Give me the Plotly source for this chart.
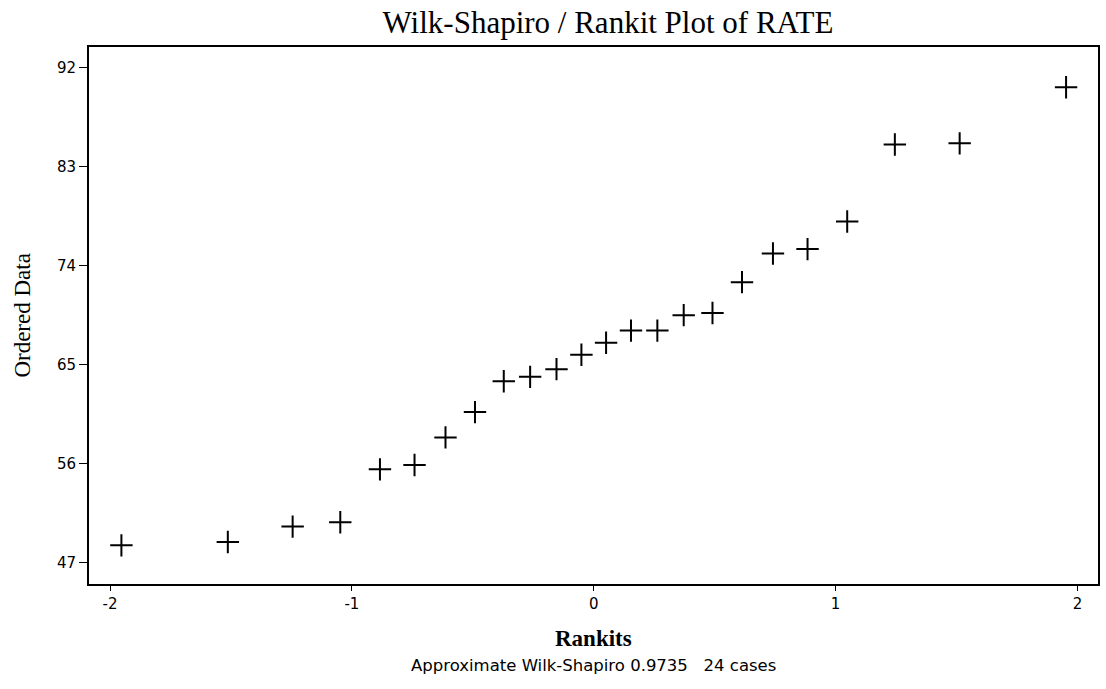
import plotly.graph_objects as go

# Normal scores (rankits) and the sorted RATE values, 24 cases
rankits = [-1.953, -1.513, -1.245, -1.048, -0.884, -0.741, -0.613, -0.491,
           -0.372, -0.263, -0.154, -0.051, 0.051, 0.154, 0.263, 0.372,
           0.491, 0.613, 0.741, 0.884, 1.048, 1.245, 1.513, 1.953]
ordered_rate = [48.6, 48.9, 50.3, 50.7, 55.5, 55.9, 58.4, 60.7,
                63.5, 63.9, 64.6, 65.9, 67.0, 68.1, 68.1, 69.5,
                69.7, 72.5, 75.1, 75.5, 78.0, 85.0, 85.1, 90.2]

x_tickvals = [-2, -1, 0, 1, 2]
x_ticktext = ["-2", "-1", "0", "1", "2"]
y_tickvals = [47, 56, 65, 74, 83, 92]
y_ticktext = ["47", "56", "65", "74", "83", "92"]

wilk_shapiro = 0.9735
n_cases = len(ordered_rate)

SERIF = "Liberation Serif, Times New Roman, serif"
SANS = "DejaVu Sans, Arial, sans-serif"

fig = go.Figure()
fig.add_trace(go.Scatter(
    x=rankits,
    y=ordered_rate,
    mode="markers",
    marker=dict(symbol="cross-thin", size=16, color="black",
                line=dict(width=2, color="black")),
    showlegend=False,
    hoverinfo="x+y",
))

axis_common = dict(
    showline=True, linecolor="black", linewidth=2, mirror=True,
    showgrid=False, zeroline=False,
    ticks="outside", tickcolor="black", tickwidth=1,
    tickfont=dict(family=SANS, size=15, color="black"),
)

fig.update_layout(
    width=1106, height=689,
    margin=dict(l=89, r=6, t=47, b=105),
    paper_bgcolor="white", plot_bgcolor="white",
    title=dict(
        text="Wilk-Shapiro / Rankit Plot of RATE",
        font=dict(family=SERIF, size=31, color="black"),
        x=608 / 1106, xref="container", xanchor="center",
        y=1 - 22 / 689, yref="container", yanchor="middle",
    ),
    xaxis=dict(range=[-2.087, 2.085], tickmode="array",
               tickvals=x_tickvals, ticktext=x_ticktext, ticklen=5,
               **axis_common),
    yaxis=dict(range=[45.09, 93.85], tickmode="array",
               tickvals=y_tickvals, ticktext=y_ticktext, ticklen=8,
               **axis_common),
    annotations=[
        dict(text="Rankits", xref="paper", yref="paper",
             x=0.5, y=-0.1006, xanchor="center", yanchor="middle",
             showarrow=False,
             font=dict(family=SERIF, size=23, color="black", weight="bold")),
        dict(text="Ordered Data", xref="paper", yref="paper",
             x=-0.0663, y=0.5, xanchor="center", yanchor="middle",
             textangle=-90, showarrow=False,
             font=dict(family=SERIF, size=23, color="black")),
        dict(text=f"Approximate Wilk-Shapiro {wilk_shapiro:.4f}   {n_cases} cases",
             xref="paper", yref="paper",
             x=0.5, y=-0.1527, xanchor="center", yanchor="middle",
             showarrow=False,
             font=dict(family=SANS, size=16.5, color="black")),
    ],
)

fig.write_html("out.html")
